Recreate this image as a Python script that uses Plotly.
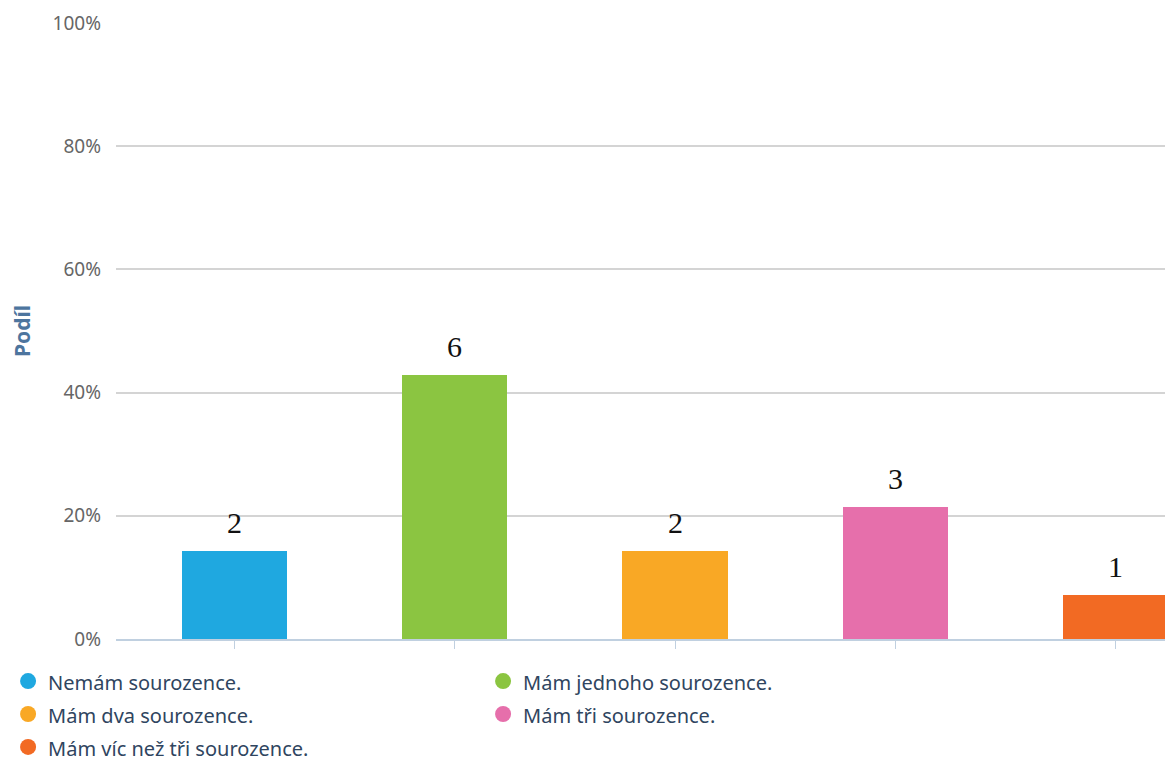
import plotly.graph_objects as go

categories = ["Nemám sourozence.", "Mám jednoho sourozence.", "Mám dva sourozence.",
              "Mám tři sourozence.", "Mám víc než tři sourozence."]
counts = [2, 6, 2, 3, 1]
colors = ["#1fa8e0", "#8bc541", "#f9a825", "#e66fab", "#f26a23"]
y_ticks = [0, 20, 40, 60, 80, 100]
y_tick_labels = ["0%", "20%", "40%", "60%", "80%", "100%"]

total = sum(counts)
shares = [c / total * 100 for c in counts]
xs = list(range(len(categories)))

fig = go.Figure()
fig.add_trace(go.Bar(
    x=xs, y=shares, width=0.477,
    marker=dict(color=colors, line=dict(width=0)),
    showlegend=False, hoverinfo="skip",
))
for name, col in zip(categories, colors):
    fig.add_trace(go.Scatter(
        x=[None], y=[None], mode="markers",
        name=f'<span style="font-size:20px">{name}</span>',
        marker=dict(symbol="circle", size=16, color=col),
    ))

for x, s, c in zip(xs, shares, counts):
    fig.add_annotation(x=x, y=s, text=str(c), showarrow=False,
                       yanchor="bottom", yshift=10,
                       font=dict(family="Liberation Serif", size=30, color="#111111"))

fig.update_layout(
    width=1165, height=750,
    margin=dict(l=108, r=0, t=15, b=119, autoexpand=False),
    plot_bgcolor="white", paper_bgcolor="white",
    bargap=0,
    xaxis=dict(range=[-0.538, 4.261], tickvals=xs, ticktext=[""] * len(xs),
               automargin=False,
               showgrid=False, zeroline=False, showline=True,
               linecolor="#c0d0e0", linewidth=1.5,
               ticks="outside", ticklen=8, tickcolor="#c0d0e0", tickwidth=1),
    yaxis=dict(range=[0, 100], tickvals=y_ticks, ticktext=y_tick_labels,
               automargin=False,
               showgrid=True, gridcolor="#d4d4d4", gridwidth=1.5,
               zeroline=False, showline=False,
               ticklabelstandoff=14,
               tickfont=dict(family="Noto Sans", size=19, color="#666666"),
               title=dict(text="<b>Podíl</b>", standoff=17,
                          font=dict(family="Noto Sans", size=21, color="#4d759e"))),
    legend=dict(orientation="h", x=-0.1021, xanchor="left", y=-0.0335, yanchor="top",
                entrywidth=430, entrywidthmode="pixels",
                font=dict(family="Noto Sans", size=23, color="#2f4560"),
                itemwidth=30, traceorder="normal"),
)

fig.write_html("out.html")
